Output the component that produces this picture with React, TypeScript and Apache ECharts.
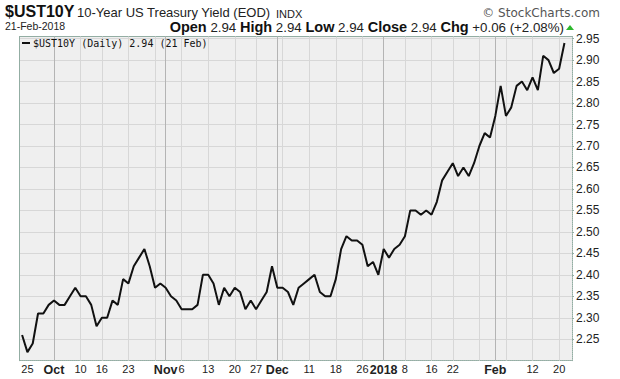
import React, { useEffect, useRef } from "react";
import * as echarts from "echarts";

const dates: string[] = [
  "2017-09-22", "2017-09-25", "2017-09-26", "2017-09-27", "2017-09-28", "2017-09-29",
  "2017-10-02", "2017-10-03", "2017-10-04", "2017-10-05", "2017-10-06", "2017-10-10",
  "2017-10-11", "2017-10-12", "2017-10-13", "2017-10-16", "2017-10-17", "2017-10-18",
  "2017-10-19", "2017-10-20", "2017-10-23", "2017-10-24", "2017-10-25", "2017-10-26",
  "2017-10-27", "2017-10-30", "2017-10-31",
  "2017-11-01", "2017-11-02", "2017-11-03", "2017-11-06", "2017-11-07", "2017-11-08",
  "2017-11-09", "2017-11-10", "2017-11-13", "2017-11-14", "2017-11-15", "2017-11-16",
  "2017-11-17", "2017-11-20", "2017-11-21", "2017-11-22", "2017-11-24", "2017-11-27",
  "2017-11-28", "2017-11-29", "2017-11-30",
  "2017-12-01", "2017-12-04", "2017-12-05", "2017-12-06", "2017-12-07", "2017-12-08",
  "2017-12-11", "2017-12-12", "2017-12-13", "2017-12-14", "2017-12-15", "2017-12-18",
  "2017-12-19", "2017-12-20", "2017-12-21", "2017-12-22", "2017-12-26", "2017-12-27",
  "2017-12-28", "2017-12-29",
  "2018-01-02", "2018-01-03", "2018-01-04", "2018-01-05", "2018-01-08", "2018-01-09",
  "2018-01-10", "2018-01-11", "2018-01-12", "2018-01-16", "2018-01-17", "2018-01-18",
  "2018-01-19", "2018-01-22", "2018-01-23", "2018-01-24", "2018-01-25", "2018-01-26",
  "2018-01-29", "2018-01-30", "2018-01-31",
  "2018-02-01", "2018-02-02", "2018-02-05", "2018-02-06", "2018-02-07", "2018-02-08",
  "2018-02-09", "2018-02-12", "2018-02-13", "2018-02-14", "2018-02-15", "2018-02-16",
  "2018-02-20", "2018-02-21",
];

const yields: number[] = [
  2.26, 2.22, 2.24, 2.31, 2.31, 2.33,
  2.34, 2.33, 2.33, 2.35, 2.37, 2.35,
  2.35, 2.33, 2.28, 2.30, 2.30, 2.34,
  2.33, 2.39, 2.38, 2.42, 2.44, 2.46,
  2.42, 2.37, 2.38,
  2.37, 2.35, 2.34, 2.32, 2.32, 2.32,
  2.33, 2.40, 2.40, 2.38, 2.33, 2.37,
  2.35, 2.37, 2.36, 2.32, 2.34, 2.32,
  2.34, 2.36, 2.42,
  2.37, 2.37, 2.36, 2.33, 2.37, 2.38,
  2.39, 2.40, 2.36, 2.35, 2.35, 2.39,
  2.46, 2.49, 2.48, 2.48, 2.47, 2.42,
  2.43, 2.40,
  2.46, 2.44, 2.46, 2.47, 2.49, 2.55,
  2.55, 2.54, 2.55, 2.54, 2.57, 2.62,
  2.64, 2.66, 2.63, 2.65, 2.63, 2.66,
  2.70, 2.73, 2.72,
  2.77, 2.84, 2.77, 2.79, 2.84, 2.85,
  2.83, 2.86, 2.83, 2.91, 2.90, 2.87,
  2.88, 2.94,
];

const tickDates: string[] = [
  "2017-09-25", "2017-10-02", "2017-10-10", "2017-10-16", "2017-10-23", "2017-11-01",
  "2017-11-06", "2017-11-13", "2017-11-20", "2017-11-27", "2017-12-01", "2017-12-11",
  "2017-12-18", "2017-12-26", "2018-01-02", "2018-01-08", "2018-01-16", "2018-01-22",
  "2018-02-01", "2018-02-12", "2018-02-20",
];
const tickLabels: string[] = [
  "25", "Oct", "10", "16", "23", "Nov", "6", "13", "20", "27", "Dec", "11",
  "18", "26", "2018", "8", "16", "22", "Feb", "12", "20",
];
const boldTickLabels: string[] = ["Oct", "Nov", "Dec", "2018", "Feb"];

const monthGridDates: string[] = ["2017-10-02", "2017-11-01", "2017-12-01", "2018-01-02", "2018-02-01"];
const weekGridDates: string[] = [
  "2017-10-10", "2017-10-16", "2017-10-23", "2017-10-30", "2017-11-06", "2017-11-13",
  "2017-11-20", "2017-11-27", "2017-12-04", "2017-12-11", "2017-12-18", "2017-12-26",
  "2018-01-08", "2018-01-16", "2018-01-22", "2018-01-29", "2018-02-05", "2018-02-12",
  "2018-02-20",
];

const X_MIN = -0.47;
const X_MAX = 103.42;
const Y_MIN = 2.2;
const Y_MAX = 2.955;
const BORDER = "#93ada3";
const SANS = "'Liberation Sans', Arial, sans-serif";

export default function App() {
  const ref = useRef<HTMLDivElement>(null);

  useEffect(() => {
    if (!ref.current) return;
    const chart = echarts.init(ref.current, undefined, { renderer: "svg" });
    const lineData = yields.map((v, i) => [i, v]);
    const tickIdx = tickDates.map((d) => dates.indexOf(d));
    const labelByIdx: Record<number, string> = {};
    tickIdx.forEach((ix, k) => (labelByIdx[ix] = tickLabels[k]));

    const gridLines = [
      ...weekGridDates.map((d) => ({
        xAxis: dates.indexOf(d),
        lineStyle: { color: "#d7d7d7", width: 1, type: "solid" },
      })),
      ...monthGridDates.map((d) => ({
        xAxis: dates.indexOf(d),
        lineStyle: { color: "#b4b4b4", width: 1, type: "solid" },
      })),
    ];

    chart.setOption({
      animation: false,
      backgroundColor: "#ffffff",
      grid: {
        left: 19.6,
        right: 48,
        top: 36.5,
        bottom: 18.3,
        show: true,
        backgroundColor: "#efefef",
        borderWidth: 0,
      },
      xAxis: [
        {
          type: "value",
          min: X_MIN,
          max: X_MAX,
          position: "bottom",
          axisLine: { show: true, onZero: false, lineStyle: { color: BORDER, type: "dotted", width: 1 } },
          axisTick: { show: false },
          splitLine: { show: false },
          axisLabel: {
            show: true,
            customValues: tickIdx,
            margin: 3,
            color: "#222",
            fontFamily: SANS,
            fontSize: 11,
            formatter: (v: number) => {
              const s = labelByIdx[Math.round(v)] ?? "";
              return boldTickLabels.includes(s) ? `{b|${s}}` : s;
            },
            rich: {
              b: { fontWeight: "bold", fontSize: 12.5, fontFamily: SANS, color: "#222" },
            },
          },
        },
        {
          type: "value",
          min: X_MIN,
          max: X_MAX,
          position: "top",
          axisLine: { show: true, onZero: false, lineStyle: { color: BORDER, width: 1 } },
          axisTick: { show: false },
          axisLabel: { show: false },
          splitLine: { show: false },
        },
      ],
      yAxis: [
        {
          type: "value",
          position: "right",
          min: Y_MIN,
          max: Y_MAX,
          interval: 0.05,
          axisLine: { show: true, onZero: false, lineStyle: { color: BORDER, type: "dotted", width: 1 } },
          axisTick: { show: true, length: 2, lineStyle: { color: BORDER } },
          splitLine: { show: true, lineStyle: { color: "#d7d7d7", width: 1 } },
          axisLabel: {
            show: true,
            margin: 4,
            color: "#222",
            fontFamily: SANS,
            fontSize: 12,
            showMinLabel: false,
            showMaxLabel: false,
            formatter: (v: number) => v.toFixed(2),
          },
        },
        {
          type: "value",
          position: "left",
          min: Y_MIN,
          max: Y_MAX,
          axisLine: { show: true, onZero: false, lineStyle: { color: BORDER, width: 1 } },
          axisTick: { show: false },
          axisLabel: { show: false },
          splitLine: { show: false },
        },
      ],
      series: [
        {
          type: "line",
          z: 1,
          xAxisIndex: 0,
          yAxisIndex: 0,
          data: lineData,
          showSymbol: false,
          symbol: "none",
          lineStyle: { opacity: 0, width: 0 },
          silent: true,
          markLine: {
            silent: true,
            symbol: ["none", "none"],
            label: { show: false },
            data: gridLines,
          },
        },
        {
          type: "line",
          z: 5,
          xAxisIndex: 0,
          yAxisIndex: 0,
          data: lineData,
          showSymbol: false,
          symbol: "none",
          lineStyle: { color: "#111111", width: 2 },
        },
      ],
      graphic: [
        {
          type: "text",
          left: 5,
          top: 3,
          style: { text: "$UST10Y", fontFamily: SANS, fontWeight: "bold", fontSize: 16, lineHeight: 16, fill: "#111" },
        },
        {
          type: "text",
          left: 77,
          top: 6,
          style: { text: "10-Year US Treasury Yield (EOD)", fontFamily: SANS, fontSize: 13, lineHeight: 13, fill: "#222" },
        },
        {
          type: "text",
          left: 276,
          top: 8,
          style: { text: "INDX", fontFamily: SANS, fontSize: 11, lineHeight: 11, fill: "#222" },
        },
        {
          type: "text",
          right: 20,
          top: 7,
          style: {
            text: "© StockCharts.com",
            fontFamily: "'DejaVu Sans', sans-serif",
            fontSize: 12,
            lineHeight: 12,
            fill: "#555",
          },
        },
        {
          type: "text",
          left: 5,
          top: 20.5,
          style: { text: "21-Feb-2018", fontFamily: SANS, fontSize: 10.5, lineHeight: 11, fill: "#222" },
        },
        {
          type: "text",
          right: 56,
          top: 19.5,
          style: {
            text:
              "{b|Open} {v|2.94} {b|High} {v|2.94} {b|Low} {v|2.94} {b|Close} {v|2.94} {b|Chg} {v|+0.06 (+2.08%)}",
            rich: {
              b: { fontFamily: SANS, fontWeight: "bold", fontSize: 14.5, lineHeight: 14, fill: "#111", color: "#111" },
              v: { fontFamily: SANS, fontSize: 13.3, lineHeight: 14, fill: "#222", color: "#222" },
            },
            fontFamily: SANS,
            fontSize: 13.3,
            lineHeight: 14,
          },
        },
        {
          type: "polygon",
          shape: { points: [[566, 30], [574, 30], [570, 25]] },
          style: { fill: "#2db82d" },
        },
        {
          type: "line",
          shape: { x1: 22, y1: 43, x2: 30, y2: 43 },
          style: { stroke: "#111", lineWidth: 2 },
          z: 10,
        },
        {
          type: "text",
          left: 33,
          top: 38,
          z: 10,
          style: {
            text: "$UST10Y (Daily) 2.94 (21 Feb)",
            fontFamily: "'DejaVu Sans Mono', monospace",
            fontSize: 10,
            lineHeight: 10,
            fill: "#111",
          },
        },
      ],
    });

    return () => chart.dispose();
  }, []);

  return (
    <div
      ref={ref}
      style={{ position: "absolute", left: 0, top: 0, width: 620, height: 379, background: "#fff" }}
    />
  );
}
